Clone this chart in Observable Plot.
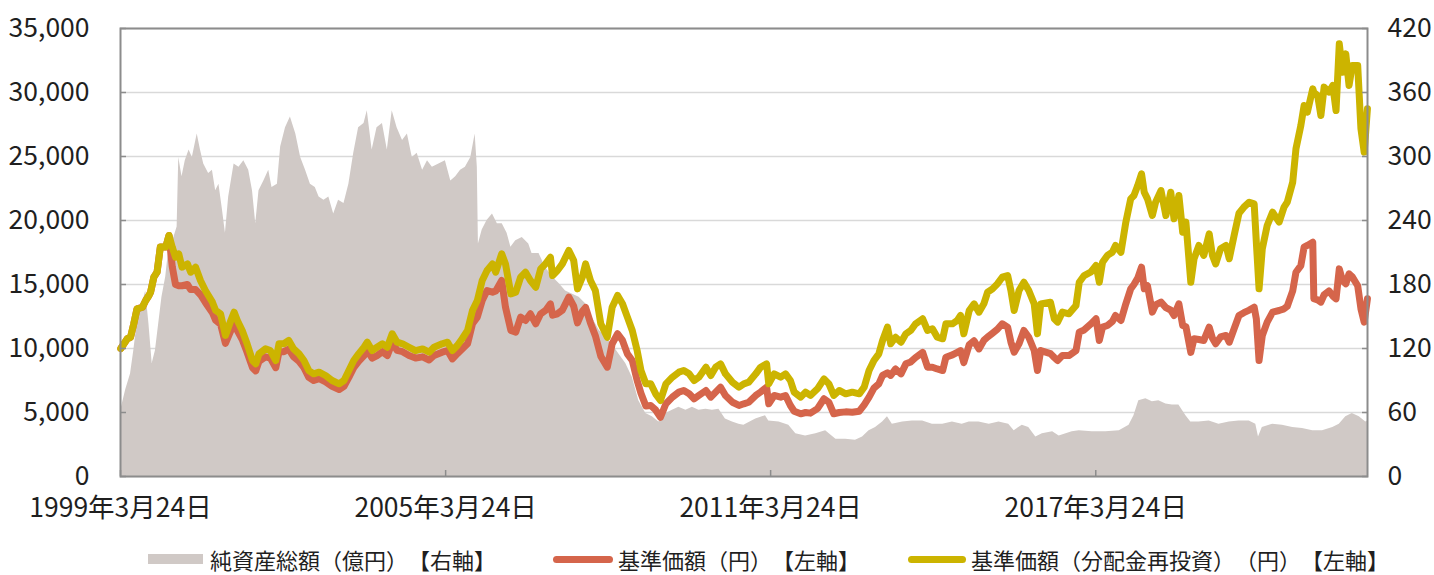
<!DOCTYPE html>
<html>
<head>
<meta charset="utf-8">
<script src="https://cdn.jsdelivr.net/npm/d3@7"></script>
<script src="https://cdn.jsdelivr.net/npm/@observablehq/plot@0.6"></script>
<style>
  html, body { margin: 0; padding: 0; background: #ffffff; }
  body { font-family: "Noto Sans CJK JP", "Noto Sans", sans-serif; color: #1f1f1f; }
  #wrap { position: relative; width: 1434px; height: 575px; }
  #legend { position: absolute; left: 0; top: 547px; width: 1434px; height: 24px; font-size: 22px; line-height: 24px; white-space: nowrap; text-spacing-trim: space-all; }
  .item { position: absolute; top: 0; display: flex; align-items: center; height: 24px; }
  .sw-area { display: inline-block; width: 55px; height: 10px; background: #d0c9c6; margin-right: 7px; }
  .sw-line { display: inline-block; height: 7px; border-radius: 4px; margin-right: 5px; }
</style>
</head>
<body>
<div id="wrap">
  <div id="chart"></div>
  <div id="legend"></div>
</div>
<script>
// ---- axis ticks ----
const leftTicks = [0, 5000, 10000, 15000, 20000, 25000, 30000, 35000];
const rightTicks = [0, 60, 120, 180, 240, 300, 360, 420];
const xTickDates = ["1999-03-24", "2005-03-24", "2011-03-24", "2017-03-24"];
const xTickLabels = ["1999年3月24日", "2005年3月24日", "2011年3月24日", "2017年3月24日"];
const xDomain = ["1999-03-24", "2022-03-30"];

// ---- legend ----
const seriesNames = ["純資産総額（億円）【右軸】", "基準価額（円）【左軸】", "基準価額（分配金再投資）（円）【左軸】"];

// ---- line series (decimal year, yen) ----
const lineYears = [1999.23,1999.35,1999.41,1999.47,1999.53,1999.63,1999.69,1999.75,1999.78,1999.84,1999.90,1999.96,2000.06,2000.12,2000.18,2000.24,2000.30,2000.36,2000.46,2000.52,2000.61,2000.70,2000.79,2000.92,2000.98,2001.07,2001.16,2001.26,2001.32,2001.38,2001.47,2001.56,2001.66,2001.72,2001.78,2001.90,2001.99,2002.09,2002.15,2002.24,2002.33,2002.42,2002.52,2002.61,2002.70,2002.79,2002.89,2003.01,2003.13,2003.26,2003.35,2003.44,2003.53,2003.62,2003.72,2003.78,2003.87,2003.96,2004.06,2004.15,2004.24,2004.33,2004.43,2004.55,2004.67,2004.80,2004.92,2005.01,2005.16,2005.26,2005.35,2005.44,2005.53,2005.63,2005.72,2005.81,2005.90,2005.99,2006.09,2006.15,2006.26,2006.33,2006.43,2006.52,2006.61,2006.70,2006.79,2006.89,2006.98,2007.07,2007.16,2007.20,2007.29,2007.38,2007.50,2007.59,2007.66,2007.75,2007.81,2007.90,2007.99,2008.09,2008.21,2008.30,2008.40,2008.49,2008.58,2008.67,2008.76,2008.83,2008.92,2009.01,2009.10,2009.19,2009.29,2009.41,2009.53,2009.62,2009.72,2009.81,2009.90,2010.03,2010.12,2010.21,2010.30,2010.39,2010.52,2010.64,2010.73,2010.82,2010.95,2011.04,2011.15,2011.19,2011.29,2011.41,2011.50,2011.59,2011.66,2011.78,2011.87,2011.96,2012.09,2012.21,2012.30,2012.39,2012.49,2012.61,2012.73,2012.86,2012.95,2013.04,2013.13,2013.22,2013.29,2013.38,2013.44,2013.53,2013.63,2013.72,2013.81,2013.90,2014.03,2014.12,2014.21,2014.30,2014.40,2014.46,2014.58,2014.67,2014.73,2014.79,2014.89,2014.98,2015.07,2015.16,2015.23,2015.32,2015.41,2015.50,2015.60,2015.66,2015.72,2015.81,2015.90,2015.99,2016.09,2016.15,2016.21,2016.39,2016.46,2016.52,2016.61,2016.73,2016.86,2016.92,2017.01,2017.13,2017.23,2017.29,2017.35,2017.44,2017.53,2017.59,2017.69,2017.78,2017.87,2017.93,2018.00,2018.07,2018.12,2018.18,2018.27,2018.33,2018.43,2018.52,2018.61,2018.67,2018.76,2018.83,2018.89,2018.98,2019.04,2019.13,2019.22,2019.32,2019.38,2019.44,2019.53,2019.63,2019.69,2019.78,2019.87,2019.96,2020.06,2020.15,2020.19,2020.24,2020.30,2020.39,2020.49,2020.61,2020.70,2020.76,2020.86,2020.92,2021.01,2021.07,2021.13,2021.23,2021.25,2021.32,2021.38,2021.44,2021.53,2021.60,2021.66,2021.72,2021.78,2021.84,2021.90,2021.96,2022.06,2022.12,2022.18,2022.24];

const reinvestedNav = [10000,10760,10880,11930,13100,13230,13750,14140,14400,15570,15960,17920,17920,18830,17920,17130,17390,16350,16610,15960,16350,15310,14530,13620,12970,12710,11020,12190,12840,12190,11410,10370,9060,8800,9580,9970,9840,9060,10370,10370,10630,9970,9580,9060,8280,8020,8150,7890,7500,7240,7500,8280,9060,9580,10100,10490,9840,10100,10370,10100,11150,10490,10370,10100,9840,9970,9710,10100,10370,10490,9840,10230,10760,11410,12970,13750,15310,16090,16610,15960,17400,16610,14270,14400,15570,15960,15310,14790,16220,16610,17130,15700,16090,16610,17660,16880,14660,15570,16610,15310,14530,11930,10880,13230,14140,13490,12450,11410,9840,8280,7240,7240,6460,5940,7240,7760,8150,8280,8020,7500,7760,8540,7890,8540,8800,8020,7370,6980,7240,7370,8020,8540,8800,7240,8020,7760,8020,7500,6590,6200,6590,6330,6850,7630,7240,6330,6720,6460,6590,6460,6980,8280,9060,9580,10630,11670,10370,10880,10490,11150,11410,11930,12320,11410,11540,10880,10760,11930,11930,12190,12580,11150,12970,13490,12840,13490,14400,14660,15050,15570,15700,14530,12970,14530,15180,14530,13490,11150,13490,13620,12320,12060,12840,12710,13360,15180,15700,15960,16480,15180,16740,17270,17520,18050,17520,19870,21690,21950,22730,23650,22210,21690,20390,21430,22340,20390,22210,20130,21950,19090,19870,15180,17010,18050,17270,18960,17270,16610,17790,18050,17010,18830,20570,21040,21430,21300,18300,14660,17790,19610,20650,19870,21040,21430,22990,25600,27420,28980,28460,30290,30000,29770,28200,30420,30030,30550,28590,33800,31590,33020,30550,32110,32110,27160,25340,28730];

const nav = [10000,10760,10880,11930,13100,13230,13750,14140,14400,15570,15960,17920,17920,18830,16400,15000,14900,14900,15000,14600,14600,14200,13600,12800,12200,11900,10400,11400,12000,11400,10700,9700,8500,8250,9000,9350,9250,8500,9750,9750,9950,9350,9000,8500,7750,7500,7650,7400,7050,6800,7050,7750,8500,9000,9450,9850,9250,9450,9750,9450,10450,9850,9750,9450,9250,9350,9100,9450,9710,9840,9190,9600,9970,10370,11930,12450,13750,14530,14400,14500,15310,13230,11410,11280,12450,12190,12710,11930,12710,12970,13490,12600,12710,13000,14010,13300,12000,12900,13200,12000,11000,9400,8540,10370,11150,10630,9580,9060,7500,6500,5500,5550,5200,4630,5680,6200,6590,6720,6460,6070,6330,6720,6200,6590,6980,6330,5800,5550,5680,5800,6330,6600,6980,5680,6330,6200,6330,5550,5100,4900,5000,4950,5300,6070,5800,4900,5000,5050,5020,5100,5600,6200,6900,7240,7900,8100,7900,8400,8020,8800,8950,9300,9700,8540,8540,8400,8280,9320,9500,9700,9840,8900,10300,10600,9970,10630,10900,11200,11500,11930,11670,10500,9710,10370,11410,10880,9840,8280,9840,9600,9300,9060,9450,9450,9840,11280,11450,11900,12320,10630,11670,11800,12100,12580,12190,13490,14660,15000,15500,16350,14660,14900,12840,13400,13620,13200,13000,12580,13490,11800,11700,9700,10760,10700,10630,11670,10800,10370,10900,11020,10490,11540,12580,12800,13000,13230,12320,9060,11020,12060,12840,12970,13100,13300,14500,15960,16480,17920,18050,18300,13900,13800,13620,14200,14500,14100,13880,16220,15300,15050,15830,15600,14900,13100,12060,13880];

// ---- net assets (decimal year, 億円, right axis) ----
const assetYears = [1999.23,1999.32,1999.41,1999.47,1999.53,1999.63,1999.69,1999.75,1999.81,1999.87,1999.93,1999.99,2000.06,2000.12,2000.21,2000.27,2000.30,2000.36,2000.42,2000.49,2000.55,2000.64,2000.70,2000.76,2000.85,2000.92,2000.98,2001.04,2001.10,2001.16,2001.22,2001.32,2001.41,2001.50,2001.59,2001.66,2001.72,2001.78,2001.87,2001.96,2002.02,2002.12,2002.18,2002.27,2002.36,2002.46,2002.55,2002.64,2002.73,2002.82,2002.89,2002.98,2003.07,2003.16,2003.25,2003.35,2003.44,2003.53,2003.62,2003.72,2003.78,2003.87,2003.96,2004.06,2004.15,2004.24,2004.33,2004.43,2004.52,2004.61,2004.70,2004.80,2004.89,2004.98,2005.10,2005.22,2005.32,2005.41,2005.50,2005.59,2005.69,2005.77,2005.81,2005.83,2005.90,2005.99,2006.09,2006.18,2006.27,2006.36,2006.43,2006.52,2006.64,2006.76,2006.82,2006.95,2007.07,2007.20,2007.32,2007.44,2007.56,2007.69,2007.81,2007.93,2008.06,2008.18,2008.30,2008.42,2008.55,2008.67,2008.79,2008.92,2009.04,2009.16,2009.29,2009.41,2009.53,2009.66,2009.78,2009.90,2010.03,2010.15,2010.27,2010.39,2010.52,2010.64,2010.73,2010.95,2011.13,2011.19,2011.38,2011.56,2011.69,2011.87,2012.06,2012.24,2012.43,2012.61,2012.79,2012.92,2013.04,2013.16,2013.29,2013.38,2013.47,2013.66,2013.84,2014.03,2014.21,2014.40,2014.58,2014.76,2014.89,2015.07,2015.26,2015.44,2015.62,2015.72,2015.87,2015.99,2016.12,2016.24,2016.43,2016.55,2016.79,2016.92,2017.16,2017.41,2017.66,2017.84,2017.93,2018.02,2018.15,2018.27,2018.39,2018.52,2018.64,2018.76,2018.89,2018.98,2019.13,2019.32,2019.50,2019.69,2019.87,2020.06,2020.18,2020.23,2020.30,2020.49,2020.67,2020.86,2021.04,2021.23,2021.41,2021.60,2021.72,2021.84,2021.96,2022.09,2022.21,2022.24];

const netAssets = [62,81,96,118,143,162,174,143,106,118,143,168,187,215,224,234,299,281,296,306,299,321,306,293,284,287,268,274,252,228,262,293,290,296,287,268,237,268,277,287,271,274,309,327,337,321,299,287,274,271,262,259,262,246,259,256,274,303,327,331,343,306,327,331,306,343,327,315,321,299,303,287,296,290,293,296,277,281,287,290,299,321,290,218,231,240,246,237,237,228,215,221,224,218,209,209,196,187,181,174,171,168,162,149,137,131,124,115,106,93,71,59,56,51,59,62,65,62,65,62,63,62,63,54,51,49,48,54,57,52,51,48,40,38,40,43,35,35,34,37,43,46,51,56,49,51,52,52,49,49,51,49,51,51,49,51,49,43,48,46,37,40,42,38,42,43,42,42,43,48,57,71,73,70,71,68,67,67,57,51,51,52,49,51,52,52,49,37,46,49,48,46,45,43,43,46,49,56,59,56,51,52];

// ---- helpers ----
function yearToDate(t) {
  const y = Math.floor(t);
  const a = Date.UTC(y, 0, 1), b = Date.UTC(y + 1, 0, 1);
  return new Date(a + (t - y) * (b - a));
}
const K = 35000 / 420; // right-axis units to left-axis units

const lineRows = lineYears.map((t, i) => ({date: yearToDate(t), reinvested: reinvestedNav[i], nav: nav[i]}));
const assetRows = assetYears.map((t, i) => ({date: yearToDate(t), assets: netAssets[i]}));
const xTicks = xTickDates.map(d => new Date(d));

const colors = {area: "#d0c9c6", nav: "#d5654b", reinvested: "#ccb400"};

const chart = Plot.plot({
  width: 1434,
  height: 530,
  marginLeft: 120,
  marginRight: 67,
  marginTop: 28,
  marginBottom: 54,
  style: {fontFamily: "'Noto Sans CJK JP', 'Noto Sans', sans-serif", fontSize: "26.5px", color: "#1f1f1f", background: "#ffffff", overflow: "visible"},
  x: {type: "utc", domain: xDomain.map(d => new Date(d))},
  y: {domain: [0, 35000]},
  marks: [
    Plot.gridY(leftTicks, {stroke: "#d9d9d9", strokeOpacity: 1, strokeWidth: 1.5}),
    Plot.areaY(assetRows, {x: "date", y: d => d.assets * K, fill: colors.area}),
    Plot.lineY(lineRows, {x: "date", y: "nav", stroke: colors.nav, strokeWidth: 7, strokeLinejoin: "round", strokeLinecap: "round"}),
    Plot.lineY(lineRows, {x: "date", y: "reinvested", stroke: colors.reinvested, strokeWidth: 7, strokeLinejoin: "round", strokeLinecap: "round"}),
    Plot.frame({stroke: "#8c8c8c", strokeWidth: 2}),
    Plot.axisY(leftTicks, {anchor: "left", tickSize: -6, text: null, stroke: "#8c8c8c", strokeWidth: 1.5}),
    Plot.axisY(leftTicks, {anchor: "left", tickSize: 0, tickPadding: 31, tickFormat: d3.format(","), fill: "#1f1f1f"}),
    Plot.axisY(rightTicks.map(v => v * K), {anchor: "right", tickSize: -6, text: null, stroke: "#8c8c8c", strokeWidth: 1.5}),
    Plot.axisY(rightTicks.map(v => v * K), {anchor: "right", tickSize: 0, tickPadding: 20, tickFormat: d => String(Math.round(d / K)), fill: "#1f1f1f"}),
    Plot.axisX(xTicks, {anchor: "bottom", tickSize: -6, text: null, stroke: "#8c8c8c", strokeWidth: 1.5}),
    Plot.axisX(xTicks, {anchor: "bottom", tickSize: 0, tickPadding: 22, tickFormat: (d, i) => xTickLabels[i], fill: "#1f1f1f"})
  ]
});
document.getElementById("chart").appendChild(chart);

// legend
const legend = document.getElementById("legend");
const legendItems = [
  {name: seriesNames[0], kind: "area", color: colors.area, left: 148},
  {name: seriesNames[1], kind: "line", color: colors.nav, left: 553, w: 60},
  {name: seriesNames[2], kind: "line", color: colors.reinvested, left: 908, w: 58}
];
for (const it of legendItems) {
  const el = document.createElement("div");
  el.className = "item";
  el.style.left = it.left + "px";
  const sw = document.createElement("span");
  if (it.kind === "area") {
    sw.className = "sw-area";
  } else {
    sw.className = "sw-line";
    sw.style.width = it.w + "px";
    sw.style.background = it.color;
  }
  el.appendChild(sw);
  const tx = document.createElement("span");
  tx.textContent = it.name;
  el.appendChild(tx);
  legend.appendChild(el);
}
</script>
</body>
</html>
